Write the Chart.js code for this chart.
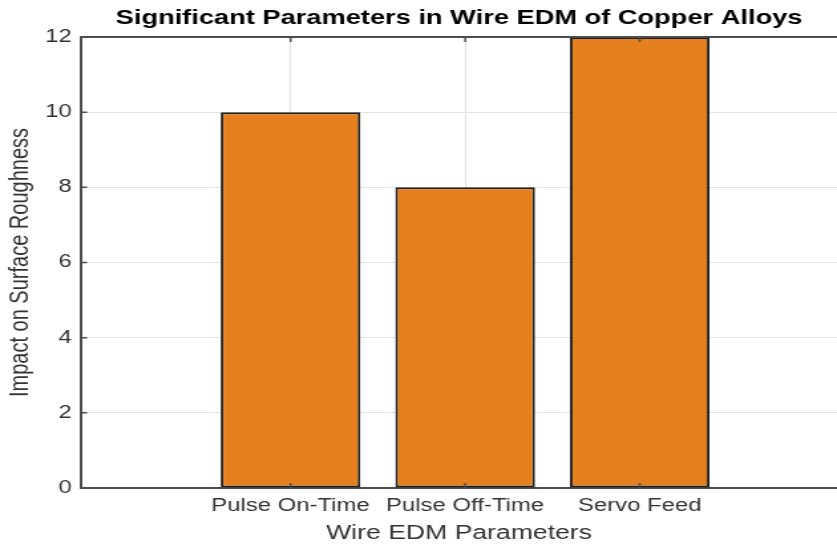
<!DOCTYPE html>
<html>
<head>
<meta charset="utf-8">
<script src="https://cdn.jsdelivr.net/npm/chart.js@4.4.1/dist/chart.umd.min.js"></script>
<style>
  body { margin: 0; background: #fff; overflow: hidden; }
  #wrap { width: 630px; height: 545px; transform: scaleX(1.3286); transform-origin: 0 0; }
</style>
</head>
<body>
<div id="wrap"><canvas id="chart" width="630" height="545"></canvas></div>
<script>
// data
const categories = ["Pulse On-Time", "Pulse Off-Time", "Servo Feed"];
const impact = [10, 8, 12];
const yMin = 0, yMax = 12, yStep = 2;
const xMin = -1.2, xMax = 3.13;

const axisColor = "#4d4d4d";
const font = "'Liberation Sans', Arial, sans-serif";

// MATLAB-style: box line on top + ticks pointing inward
const innerTicks = {
  id: "innerTicks",
  afterDatasetsDraw(chart) {
    const { ctx, chartArea: a, scales } = chart;
    ctx.save();
    ctx.strokeStyle = axisColor;
    ctx.lineWidth = 2;
    ctx.beginPath();
    ctx.moveTo(a.left, a.top);
    ctx.lineTo(a.right, a.top);
    ctx.stroke();
    ctx.lineWidth = 1.5;
    ctx.beginPath();
    scales.x.ticks.forEach((t, i) => {
      const px = scales.x.getPixelForTick(i);
      ctx.moveTo(px, a.bottom); ctx.lineTo(px, a.bottom - 5);
      ctx.moveTo(px, a.top); ctx.lineTo(px, a.top + 5);
    });
    scales.y.ticks.forEach((t, i) => {
      const py = scales.y.getPixelForTick(i);
      ctx.moveTo(a.left, py); ctx.lineTo(a.left + 4.5, py);
    });
    ctx.stroke();
    ctx.restore();
  }
};

new Chart(document.getElementById("chart"), {
  type: "bar",
  data: {
    datasets: [{
      data: impact.map((v, i) => ({ x: i, y: v })),
      backgroundColor: "rgb(230,128,30)",
      borderColor: "#1f1f1f",
      borderWidth: 2,
      borderSkipped: false,
      barPercentage: 0.8,
      categoryPercentage: 1
    }]
  },
  options: {
    responsive: false,
    animation: false,
    devicePixelRatio: 1,
    layout: { padding: 0 },
    plugins: {
      legend: { display: false },
      tooltip: { enabled: false },
      title: {
        display: true,
        fullSize: false,
        text: "Significant Parameters in Wire EDM of Copper Alloys",
        color: "#000",
        font: { family: font, size: 20.5, weight: "bold", lineHeight: 1 },
        padding: { top: 8, bottom: 8.5 }
      }
    },
    scales: {
      x: {
        type: "linear",
        min: xMin,
        max: xMax,
        offset: false,
        afterBuildTicks: (s) => { s.ticks = categories.map((c, i) => ({ value: i })); },
        afterFit: (s) => { s.height = 57; },
        ticks: {
          callback: (v) => categories[v],
          color: "#333",
          font: { family: font, size: 18 },
          padding: 7,
          maxRotation: 0,
          autoSkip: false
        },
        grid: { color: "#dedede", lineWidth: 1, drawTicks: false, offset: false },
        border: { color: axisColor, width: 2 },
        title: {
          display: true,
          text: "Wire EDM Parameters",
          color: "#333",
          font: { family: font, size: 20 },
          padding: { top: 0, bottom: 0 }
        }
      },
      y: {
        min: yMin,
        max: yMax,
        afterFit: (s) => { s.width = 61; },
        ticks: {
          stepSize: yStep,
          color: "#333",
          font: { family: font, size: 18 },
          padding: 7
        },
        grid: { color: "#e3e3e3", lineWidth: 1, drawTicks: false },
        border: { color: axisColor, width: 2 },
        title: {
          display: true,
          text: "Impact on Surface Roughness",
          color: "#333",
          font: { family: font, size: 20 },
          padding: { top: 3, bottom: 0 }
        }
      }
    }
  },
  plugins: [innerTicks]
});
</script>
</body>
</html>
